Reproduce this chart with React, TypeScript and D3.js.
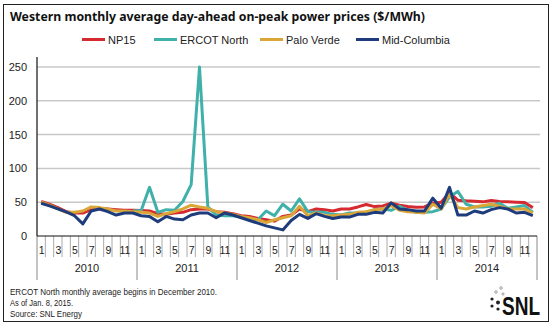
import React from "react";
import * as d3 from "d3";

const years = ["2010", "2011", "2012", "2013", "2014"];
const monthLabels = ["1", "", "3", "", "5", "", "7", "", "9", "", "11", ""];
const yTicks = [0, 50, 100, 150, 200, 250];

const np15 = [
  51, 47, 42, 36, 34, 34, 39, 40.5, 40, 39, 38, 38,
  37.6, 37, 33, 32, 34, 35, 39, 40, 40, 36, 35, 33,
  30, 29, 26, 24, 22, 29, 31, 40, 36, 40, 39, 37,
  40, 40, 43, 46.5, 43.5, 44.5, 48.5, 45.5, 43.5, 42.5, 43, 48.5,
  50, 64, 53, 52, 51.5, 50.5, 52.5, 51, 50.5, 50, 49.5, 42,
];
const ercotNorth: (number | null)[] = [
  null, null, null, null, null, null, null, null, null, null, null, 37,
  37.6, 72, 35, 39, 38, 51, 76, 250, 43, 31, 30, 30,
  28, 25, 24, 37, 30, 47, 37, 55, 36, 35, 35, 32,
  31, 34, 34, 35, 39, 40, 38, 44, 38, 35, 35, 36,
  40, 58, 66, 47, 43, 43, 44, 48.5, 41, 43, 45, 35,
];
const paloVerde = [
  50, 45.5, 40, 35, 35, 37, 43, 42, 40, 37, 37, 36,
  35, 34, 29, 33, 36, 40, 45.5, 43, 41, 36, 34, 32,
  29, 27, 24, 20, 24, 27, 30, 44, 30, 34, 30, 30,
  31, 32, 35, 36, 39, 40, 45, 38, 36, 35, 34, 47,
  40, 62, 42, 40, 43, 45, 47, 44, 40, 40, 40, 34,
];
const midColumbia = [
  48.5, 44.5, 40, 35.6, 30, 18, 37, 40, 36, 31, 34, 34,
  30, 29, 21, 29, 25, 24, 31, 34, 34, 27, 34, 31,
  27, 23, 19, 15, 12, 9, 23, 32, 26, 33, 29, 26,
  28, 28, 32, 32, 35, 34, 49, 40, 39, 37, 37, 56,
  41, 72, 31, 31, 37, 34, 39, 42, 40, 34, 35, 30,
];

const seriesNames = ["NP15", "ERCOT North", "Palo Verde", "Mid-Columbia"];
const seriesColors = ["#d42a30", "#3fb0aa", "#d9a637", "#1e3c7c"];
const seriesData: (number | null)[][] = [np15, ercotNorth, paloVerde, midColumbia];
const legendX = [82, 154, 260, 356];

const notes = [
  "ERCOT North monthly average begins in December 2010.",
  "As of Jan. 8, 2015.",
  "Source: SNL Energy",
];
const noteWidths = [207, 63, 72];

export default function App() {
  const W = 553;
  const H = 328;
  const left = 37;
  const right = 537;
  const y0 = 236;
  const nMonths = years.length * 12;
  const months = d3.range(nMonths);
  const x = d3.scaleBand<number>().domain(months).range([left, right]).padding(0);
  const bw = x.bandwidth();
  const y = d3.scaleLinear().domain([0, 250]).range([y0, 67]);
  const line = d3
    .line<number | null>()
    .defined((d) => d != null)
    .x((_, i) => (x(i) as number) + bw / 2)
    .y((d) => y(d as number));
  const yearScale = d3.scaleBand<string>().domain(years).range([left, right]);

  return (
    <div style={{ position: "absolute", left: 0, top: 0 }}>
      <svg width={W} height={H} style={{ display: "block", background: "#fff" }}>
        <rect x={3.5} y={4.5} width={545} height={317} fill="#fff" stroke="#222" strokeWidth={1} />
        <text x={10} y={20.5} fontFamily="'Noto Sans', 'Open Sans', sans-serif" fontWeight="bold" fontSize={13} fill="#111" textLength={415} lengthAdjust="spacingAndGlyphs">
          Western monthly average day-ahead on-peak power prices ($/MWh)
        </text>
        {seriesNames.map((n, i) => (
          <g key={n}>
            <line x1={legendX[i]} x2={legendX[i] + 23} y1={39.5} y2={39.5} stroke={seriesColors[i]} strokeWidth={3} />
            <text x={legendX[i] + 26} y={43.5} fontFamily="'Liberation Sans', Arial, sans-serif" fontSize={11} fill="#222">
              {n}
            </text>
          </g>
        ))}
        {yTicks.map((t) => (
          <g key={t}>
            {t > 0 && (
              <line x1={left} x2={540} y1={y(t)} y2={y(t)} stroke="#c8c8c8" strokeWidth={1.5} />
            )}
            <text x={27} y={y(t) + 4} textAnchor="end" fontFamily="'Liberation Sans', Arial, sans-serif" fontSize={11} fill="#222">
              {t}
            </text>
          </g>
        ))}
        {d3.range(nMonths + 1).map((i) => {
          const xx = left + i * bw;
          const isYear = i % 12 === 0;
          return (
            <line key={"t" + i} x1={xx} x2={xx} y1={y0} y2={isYear ? 280 : 257} stroke={isYear ? "#888" : "#aaa"} strokeWidth={1} />
          );
        })}
        {months.map((i) =>
          monthLabels[i % 12] ? (
            <text key={"m" + i} x={(x(i) as number) + bw / 2 + 0.5} y={254} textAnchor="middle" fontFamily="'Liberation Sans', Arial, sans-serif" fontSize={10.5} fill="#222">
              {monthLabels[i % 12]}
            </text>
          ) : null
        )}
        {years.map((yr) => (
          <text key={yr} x={(yearScale(yr) as number) + yearScale.bandwidth() / 2} y={272} textAnchor="middle" fontFamily="'Liberation Sans', Arial, sans-serif" fontSize={11} fill="#222">
            {yr}
          </text>
        ))}
        {seriesData.map((s, i) => (
          <path key={seriesNames[i]} d={line(s) || ""} fill="none" stroke={seriesColors[i]} strokeWidth={3} strokeLinejoin="round" />
        ))}
        <line x1={left} x2={left} y1={57} y2={y0} stroke="#111" strokeWidth={1.2} />
        <line x1={left} x2={right} y1={y0} y2={y0} stroke="#111" strokeWidth={1.2} />
        {notes.map((n, i) => (
          <text key={n} x={10} y={295 + i * 11} fontFamily="'Liberation Sans Narrow', 'Liberation Sans', Arial, sans-serif" fontSize={9.5} fill="#222" textLength={noteWidths[i]} lengthAdjust="spacingAndGlyphs">
            {n}
          </text>
        ))}
        <g>
          <circle cx={492} cy={299} r={1.6} fill="#222" />
          <circle cx={492} cy={306} r={1.6} fill="#222" />
          <circle cx={498} cy={302.5} r={2} fill="#222" />
          <circle cx={498} cy={309} r={1.6} fill="#222" />
          <circle cx={496} cy={292} r={1.3} fill="none" stroke="#666" strokeWidth={0.6} />
          <circle cx={501} cy={288} r={1.3} fill="none" stroke="#666" strokeWidth={0.6} />
          <circle cx={503} cy={294} r={1.1} fill="none" stroke="#666" strokeWidth={0.6} />
        </g>
        <text x={502} y={315} fontFamily="'Liberation Sans Narrow', 'Liberation Sans', Arial, sans-serif" fontWeight="bold" fontSize={26} fill="#111" textLength={38} lengthAdjust="spacingAndGlyphs">
          SNL
        </text>
      </svg>
    </div>
  );
}
